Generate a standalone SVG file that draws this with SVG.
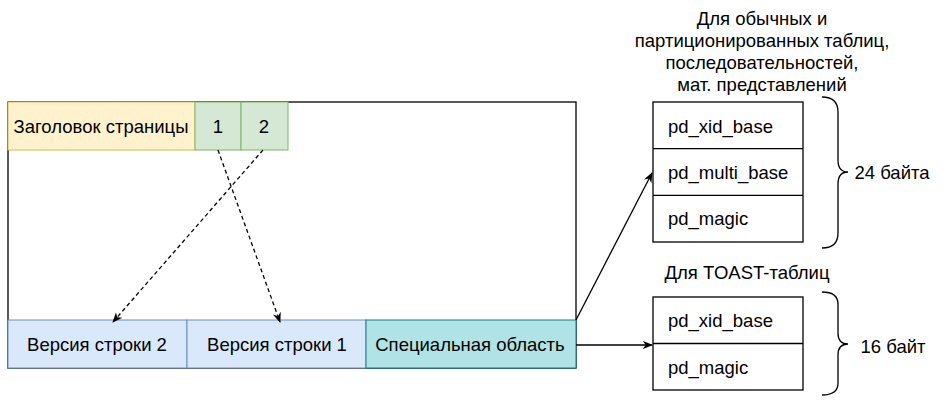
<svg xmlns="http://www.w3.org/2000/svg" width="950" height="400" viewBox="0 0 950 400">
<defs>
<style>
text{font-family:"Liberation Sans",Arial,sans-serif;font-size:18.5px;fill:#000;text-anchor:middle;dominant-baseline:central}
.t{text-anchor:start}
.ln{fill:none;stroke:#000;stroke-width:1.3}
</style>
<marker id="a" viewBox="0 0 10 10" refX="9" refY="5" markerWidth="8" markerHeight="8" orient="auto"><path d="M0,1 L10,5 L0,9 L3,5 Z" fill="#000"/></marker>
</defs>
<rect x="0" y="0" width="950" height="400" fill="#fff"/>
<g id="page"><rect x="8" y="102" width="568" height="266" fill="#fff" stroke="#000" stroke-width="1.3"/></g>
<g id="header"><rect x="8" y="102" width="187" height="48" fill="#fff2cc" stroke="#d6b656"/><text x="101" y="126">Заголовок страницы</text></g>
<g id="slot1"><rect x="195" y="102" width="46" height="48" fill="#d5e8d4" stroke="#82b366"/><text x="218" y="126">1</text></g>
<g id="slot2"><rect x="241" y="102" width="47" height="48" fill="#d5e8d4" stroke="#82b366"/><text x="264" y="126">2</text></g>
<g id="row2"><rect x="8" y="320" width="179" height="48" fill="#dae8fc" stroke="#6c8ebf"/><text x="97" y="344">Версия строки 2</text></g>
<g id="row1"><rect x="187" y="320" width="179" height="48" fill="#dae8fc" stroke="#6c8ebf"/><text x="277" y="344">Версия строки 1</text></g>
<g id="special"><rect x="366" y="320" width="210" height="48" fill="#b0e3e6" stroke="#0e8088"/><text x="470" y="344">Специальная область</text></g>
<g id="top-title"><text x="762" y="18">Для обычных и</text><text x="762" y="40">партиционированных таблиц,</text><text x="762" y="62">последовательностей,</text><text x="762" y="84">мат. представлений</text></g>
<g id="box1">
<rect x="653" y="102" width="150" height="140" fill="#fff" stroke="#000" stroke-width="1.3"/>
<line x1="653" y1="148.7" x2="803" y2="148.7" stroke="#000" stroke-width="1.3"/>
<line x1="653" y1="195.3" x2="803" y2="195.3" stroke="#000" stroke-width="1.3"/>
<text class="t" x="668" y="126">pd_xid_base</text>
<text class="t" x="668" y="172">pd_multi_base</text>
<text class="t" x="668" y="218">pd_magic</text>
</g>
<g id="toast-title"><text x="747" y="272">Для TOAST-таблиц</text></g>
<g id="box2">
<rect x="653" y="297" width="150" height="93" fill="#fff" stroke="#000" stroke-width="1.3"/>
<line x1="653" y1="343.5" x2="803" y2="343.5" stroke="#000" stroke-width="1.3"/>
<text class="t" x="668" y="320">pd_xid_base</text>
<text class="t" x="668" y="367">pd_magic</text>
</g>
<g id="brace1"><path class="ln" d="M822,97 Q838,97 838,112 L838,160 Q838,172 848,172 Q838,172 838,184 L838,233 Q838,248 822,248"/><text x="892" y="172">24 байта</text></g>
<g id="brace2"><path class="ln" d="M822,292 Q838,292 838,304 L838,333 Q838,344 848,344 Q838,344 838,355 L838,383 Q838,395 822,395"/><text x="893" y="346">16 байт</text></g>
<g id="connectors">
<line x1="263" y1="150" x2="113" y2="322" stroke="#000" stroke-width="1.3" stroke-dasharray="4 3" marker-end="url(#a)"/>
<line x1="218" y1="150" x2="280" y2="322" stroke="#000" stroke-width="1.3" stroke-dasharray="4 3" marker-end="url(#a)"/>
<line x1="576" y1="320" x2="652" y2="173" stroke="#000" stroke-width="1.3" marker-end="url(#a)"/>
<line x1="576" y1="345" x2="652" y2="345" stroke="#000" stroke-width="1.3" marker-end="url(#a)"/>
</g>
</svg>
